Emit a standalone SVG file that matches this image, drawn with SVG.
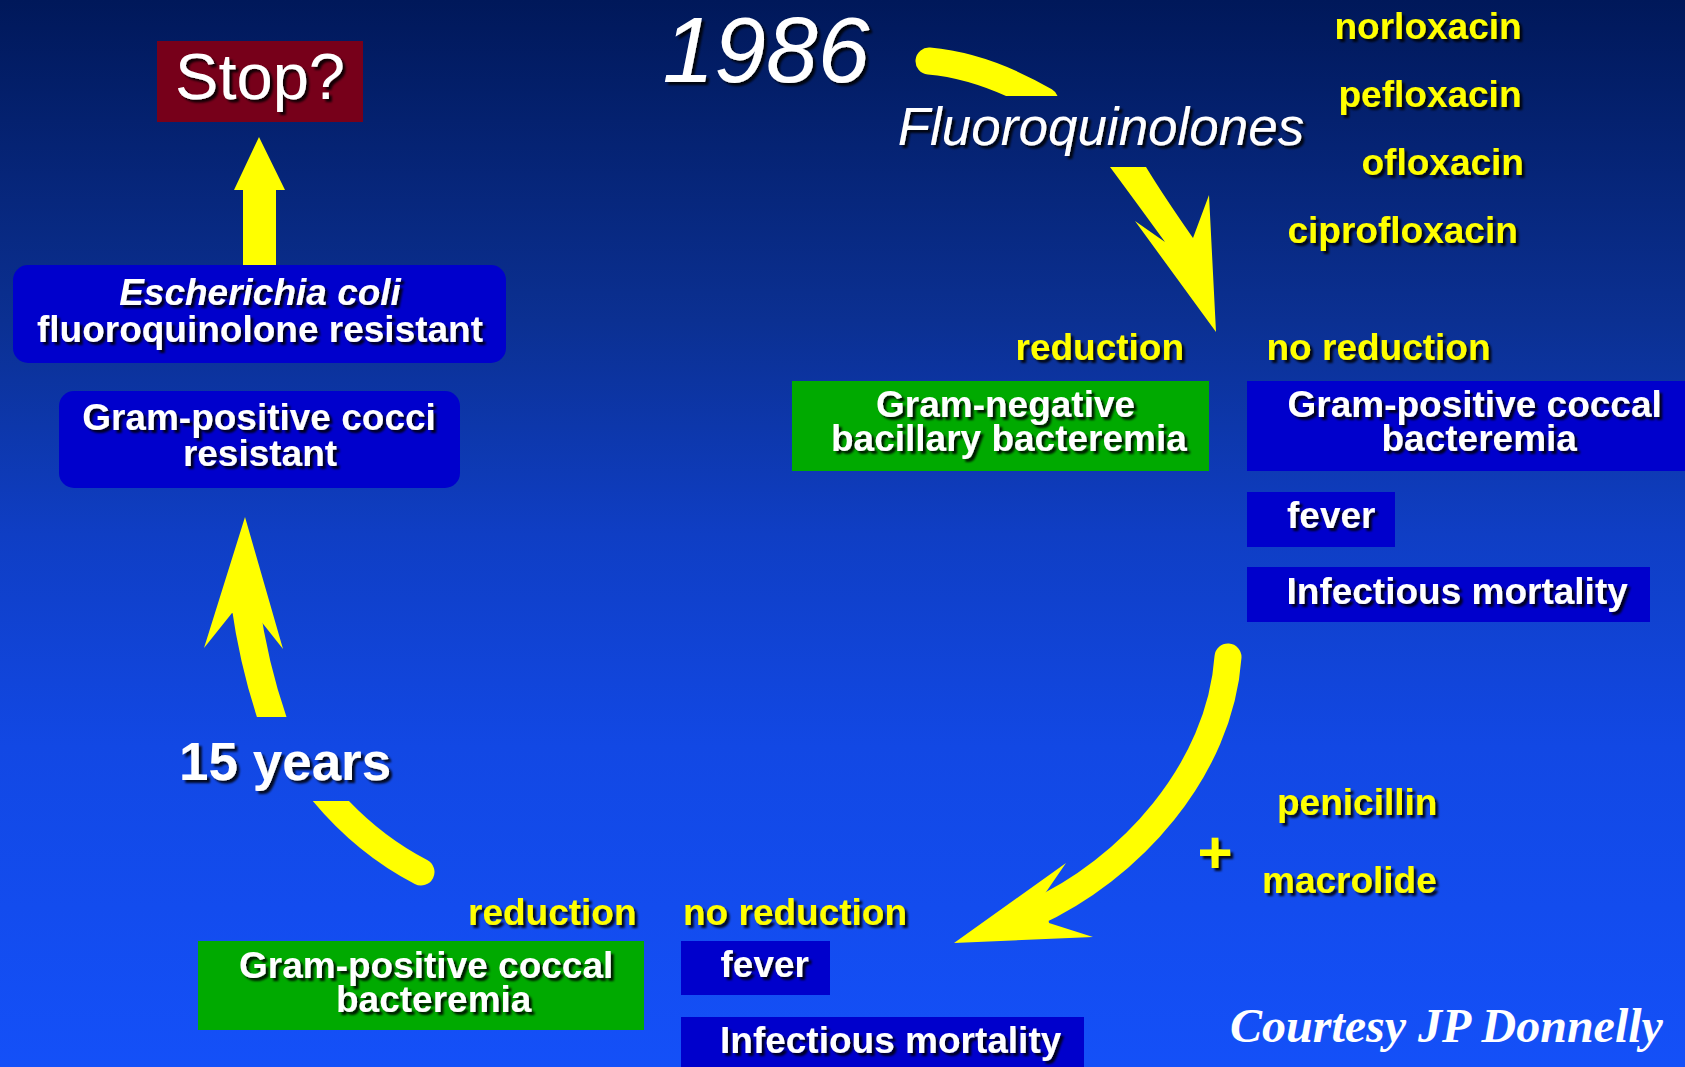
<svg xmlns="http://www.w3.org/2000/svg" width="1685" height="1067" viewBox="0 0 1685 1067">
<defs>
<linearGradient id="bg" x1="0" y1="0" x2="0" y2="1">
<stop offset="0" stop-color="#00185a"/>
<stop offset="0.3" stop-color="#0b3092"/>
<stop offset="0.5" stop-color="#0f3ec4"/>
<stop offset="0.7" stop-color="#1248e4"/>
<stop offset="1" stop-color="#1450f8"/>
</linearGradient>
<filter id="sh" x="-10%" y="-30%" width="130%" height="170%">
<feDropShadow dx="3" dy="3" stdDeviation="1" flood-color="#000" flood-opacity="0.85"/>
</filter>
<clipPath id="c1"><rect x="0" y="0" width="1685" height="96"/></clipPath>
<clipPath id="c4"><rect x="0" y="801" width="1685" height="266"/></clipPath>
<clipPath id="c5"><rect x="0" y="0" width="1685" height="717"/></clipPath>
</defs>
<style>
.t{font-family:"Liberation Sans",Arial,sans-serif;font-weight:bold;font-size:37px;fill:#fff;filter:url(#sh)}
.y{fill:#ffff00}
.it{font-style:italic}
.reg{font-weight:normal}
.blue{fill:#0000cc}
.green{fill:#00aa00}
.head{fill:#ffff00}
.band{fill:none;stroke:#ffff00;stroke-width:27}
</style>
<rect x="0" y="0" width="1685" height="1067" fill="url(#bg)"/>

<g id="connectors">
<path class="band" d="M929 61 Q985 66 1045 101" stroke-linecap="round" clip-path="url(#c1)"/>
<path class="head" d="M1110 167 L1146 167 Q1163 195 1193 238 L1209 195 L1216 332 L1135 221 L1165 242 Q1133 198 1110 167 Z"/>
<path class="band" d="M1228 657 C1220 770 1130 870 1032 914" stroke-linecap="round"/>
<path class="head" d="M1066 863 L954 943 L1093 937 L1049 923 L1044 895 Z"/>
<path class="band" d="M421 872 Q365 843 322 791" stroke-linecap="round" clip-path="url(#c4)"/>
<path class="band" style="stroke-width:28" d="M282 745 Q256 680 245 602" clip-path="url(#c5)"/>
<path class="head" d="M245 517 L283 649 L260 620 L232 613 L204 648 Z"/>
<path class="head" d="M243 270 L243 190 L234 190 L259 137 L285 190 L276 190 L276 270 Z"/>
</g>

<g id="year">
<text class="t it reg" x="766" y="82" text-anchor="middle" style="font-size:93px">1986</text>
</g>
<g id="fluoroquinolones">
<text class="t it reg" x="1101" y="145" text-anchor="middle" style="font-size:53px">Fluoroquinolones</text>
</g>
<g id="drugs">
<text class="t y" x="1334.5" y="39">norloxacin</text>
<text class="t y" x="1338.5" y="107">pefloxacin</text>
<text class="t y" x="1361.5" y="175">ofloxacin</text>
<text class="t y" x="1287.5" y="243">ciprofloxacin</text>
</g>

<g id="stop">
<rect x="157" y="41" width="206" height="81" fill="#77001a"/>
<text class="t reg" x="260" y="99" text-anchor="middle" style="font-size:65px">Stop?</text>
</g>
<g id="ecoli">
<rect class="blue" x="13" y="265" width="493" height="98" rx="15"/>
<text class="t it" x="260" y="305" text-anchor="middle">Escherichia coli</text>
<text class="t" x="260" y="342" text-anchor="middle">fluoroquinolone resistant</text>
</g>
<g id="gpc-resistant">
<rect class="blue" x="59" y="391" width="401" height="97" rx="15"/>
<text class="t" x="259" y="430" text-anchor="middle">Gram-positive cocci</text>
<text class="t" x="260" y="466" text-anchor="middle">resistant</text>
</g>

<g id="top-labels">
<text class="t y" x="1015.5" y="360">reduction</text>
<text class="t y" x="1266.5" y="360">no reduction</text>
</g>
<g id="gn-bacteremia">
<rect class="green" x="792" y="381" width="417" height="90"/>
<text class="t" x="876" y="417">Gram-negative</text>
<text class="t" x="831" y="451">bacillary bacteremia</text>
</g>
<g id="gp-bacteremia-top">
<rect class="blue" x="1247" y="381" width="438" height="90"/>
<text class="t" x="1287.5" y="417">Gram-positive coccal</text>
<text class="t" x="1381.5" y="451">bacteremia</text>
</g>
<g id="fever-top">
<rect class="blue" x="1247" y="492" width="148" height="55"/>
<text class="t" x="1287" y="528">fever</text>
</g>
<g id="mortality-top">
<rect class="blue" x="1247" y="567" width="403" height="55"/>
<text class="t" x="1286.5" y="604">Infectious mortality</text>
</g>

<g id="addition">
<text class="t y" x="1215" y="873" text-anchor="middle" style="font-size:60px">+</text>
<text class="t y" x="1277" y="815">penicillin</text>
<text class="t y" x="1262" y="893">macrolide</text>
</g>

<g id="years">
<text class="t" x="179" y="780" style="font-size:53px">15 years</text>
</g>

<g id="bottom-labels">
<text class="t y" x="468" y="925">reduction</text>
<text class="t y" x="683" y="925">no reduction</text>
</g>
<g id="gp-bacteremia-bottom">
<rect class="green" x="198" y="941" width="446" height="89"/>
<text class="t" x="239" y="978">Gram-positive coccal</text>
<text class="t" x="336" y="1012">bacteremia</text>
</g>
<g id="fever-bottom">
<rect class="blue" x="681" y="941" width="149" height="54"/>
<text class="t" x="720.5" y="977">fever</text>
</g>
<g id="mortality-bottom">
<rect class="blue" x="681" y="1017" width="403" height="50"/>
<text class="t" x="720" y="1053">Infectious mortality</text>
</g>

<g id="credit">
<text x="1230" y="1042" style="font-family:'Liberation Serif','Times New Roman',serif;font-weight:bold;font-style:italic;font-size:48px;fill:#fff">Courtesy JP Donnelly</text>
</g>
</svg>
